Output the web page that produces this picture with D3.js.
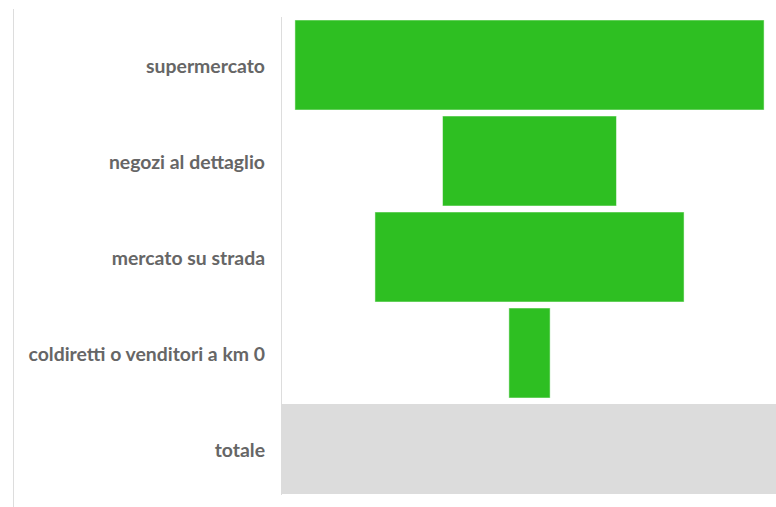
<!DOCTYPE html>
<html>
<head>
<meta charset="utf-8">
<script src="https://cdn.jsdelivr.net/npm/d3@7"></script>
<style>
  body { margin: 0; background: #fff; }
  .lbl { font: bold 19.4px "Lato", sans-serif; fill: #666; }
</style>
</head>
<body>
<svg id="chart"></svg>
<script>
const categories = ["supermercato", "negozi al dettaglio", "mercato su strada", "coldiretti o venditori a km 0", "totale"];
const values = [94.4, 35, 62.2, 8.3, 100];
const isTotal = [false, false, false, false, true];

const width = 776, height = 507;
const plotLeft = 281, plotRight = 778;
const cx = (plotLeft + plotRight) / 2;

const svg = d3.select("#chart").attr("width", width).attr("height", height);

const y = d3.scaleBand()
    .domain(categories)
    .range([17, 497])
    .paddingInner(0.0625)
    .paddingOuter(0.03125);

// bars are centred like a funnel
const w = d3.scaleLinear().domain([0, 100]).range([0, plotRight - plotLeft]);

// frame lines
svg.append("line")
    .attr("x1", 13.5).attr("x2", 13.5).attr("y1", 9).attr("y2", 507)
    .style("stroke", "#ddd");
svg.append("line")
    .attr("x1", plotLeft + 0.5).attr("x2", plotLeft + 0.5).attr("y1", 17).attr("y2", 495)
    .style("stroke", "#ddd");

svg.selectAll("rect.bar")
    .data(categories)
    .enter()
    .append("rect")
    .attr("class", "bar")
    .attr("x", (d, i) => cx - w(values[i]) / 2)
    .attr("y", d => y(d))
    .attr("width", (d, i) => w(values[i]))
    .attr("height", y.bandwidth())
    .style("fill", (d, i) => isTotal[i] ? "#dcdcdc" : "#2ebf22")
    .style("stroke", (d, i) => isTotal[i] ? "none" : "rgba(255,255,255,0.5)")
    .style("stroke-width", 1);

svg.selectAll("text.lbl")
    .data(categories)
    .enter()
    .append("text")
    .attr("class", "lbl")
    .attr("x", 265)
    .attr("y", d => y(d) + y.bandwidth() / 2)
    .attr("dy", "0.42em")
    .attr("text-anchor", "end")
    .text(d => d);
</script>
</body>
</html>
